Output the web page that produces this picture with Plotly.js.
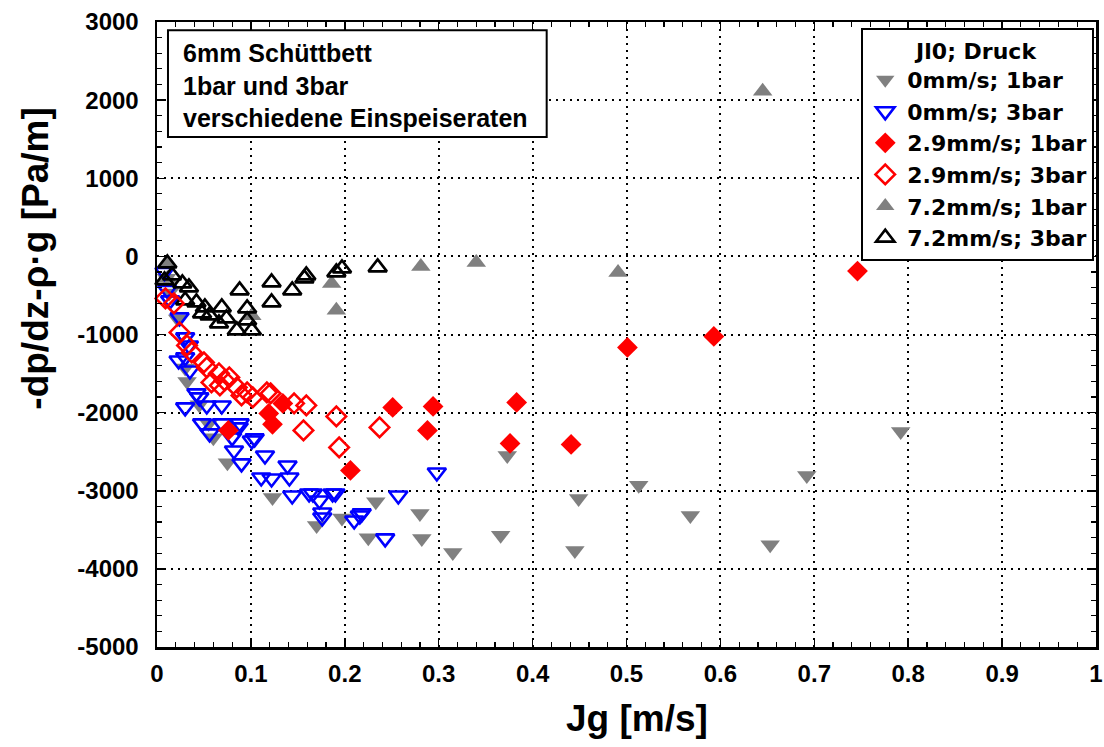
<!DOCTYPE html>
<html>
<head>
<meta charset="utf-8">
<script src="https://cdn.plot.ly/plotly-3.0.1.min.js"></script>
<style>html,body{margin:0;padding:0;background:#fff;}#chart{width:1104px;height:747px;}</style>
</head>
<body>
<div id="chart"></div>
<script>
// 0mm/s; 1bar
const g0_1bar_x = [0.010,0.013,0.022,0.030,0.032,0.045,0.055,0.060,0.075,0.123,0.170,0.197,0.225,0.233,0.280,0.282,0.315,0.366,0.373,0.445,0.449,0.513,0.568,0.653,0.692,0.792];
const g0_1bar_y = [-280,-470,-800,-1430,-1600,-1900,-2140,-2320,-2640,-3086,-3444,-3350,-3600,-3140,-3290,-3610,-3790,-3570,-2550,-3765,-3100,-2930,-3316,-3690,-2805,-2240];
// 0mm/s; 3bar
const g0_3bar_x = [0.008,0.011,0.014,0.024,0.030,0.034,0.023,0.030,0.035,0.045,0.042,0.030,0.053,0.069,0.048,0.056,0.069,0.080,0.087,0.082,0.090,0.101,0.088,0.104,0.115,0.111,0.122,0.139,0.141,0.144,0.162,0.173,0.176,0.187,0.166,0.190,0.176,0.210,0.218,0.216,0.243,0.257,0.298];
const g0_3bar_y = [-200,-430,-563,-781,-1037,-1140,-1332,-1293,-1460,-1805,-1754,-1933,-1908,-1908,-2138,-2266,-2138,-2317,-2189,-2484,-2650,-2356,-2138,-2330,-2548,-2830,-2843,-2676,-2830,-3060,-3035,-3124,-3278,-3035,-3035,-3035,-3342,-3380,-3290,-3316,-3610,-3060,-2766];
// 2.9mm/s; 1bar
const g29_1bar_x = [0.076,0.119,0.123,0.134,0.206,0.251,0.294,0.288,0.383,0.376,0.441,0.501,0.593,0.746];
const g29_1bar_y = [-2228,-2010,-2150,-1882,-2740,-1933,-1920,-2228,-1870,-2394,-2407,-1165,-1024,-188];
// 2.9mm/s; 3bar
const g29_3bar_x = [0.009,0.018,0.024,0.032,0.037,0.050,0.053,0.066,0.072,0.077,0.085,0.096,0.090,0.067,0.058,0.102,0.117,0.121,0.146,0.159,0.156,0.191,0.194,0.237];
const g29_3bar_y = [-538,-602,-973,-1140,-1229,-1357,-1421,-1498,-1588,-1549,-1677,-1741,-1780,-1652,-1613,-1805,-1741,-1754,-1882,-1908,-2228,-2049,-2445,-2189];
// 7.2mm/s; 1bar
const g72_1bar_x = [0.011,0.011,0.101,0.186,0.191,0.281,0.340,0.491,0.645];
const g72_1bar_y = [-90,-282,-760,-346,-691,-128,-77,-205,2113];
// 7.2mm/s; 3bar
const g72_3bar_x = [0.011,0.016,0.008,0.027,0.034,0.030,0.042,0.051,0.048,0.056,0.069,0.066,0.074,0.085,0.088,0.096,0.096,0.101,0.122,0.122,0.144,0.159,0.157,0.191,0.197,0.235];
const g72_3bar_y = [-90,-243,-307,-346,-397,-563,-589,-653,-730,-755,-653,-858,-794,-947,-435,-666,-819,-947,-333,-589,-435,-243,-282,-205,-154,-141];

const seriesNames = ["0mm/s; 1bar","0mm/s; 3bar","2.9mm/s; 1bar","2.9mm/s; 3bar","7.2mm/s; 1bar","7.2mm/s; 3bar"];
const yTickVals = [-5000,-4000,-3000,-2000,-1000,0,1000,2000,3000];
const yTickText = ["-5000","-4000","-3000","-2000","-1000","0","1000","2000","3000"];
const xTickVals = [0,0.1,0.2,0.3,0.4,0.5,0.6,0.7,0.8,0.9,1];
const xTickText = ["0","0.1","0.2","0.3","0.4","0.5","0.6","0.7","0.8","0.9","1"];

const FONT = "Liberation Sans, Arial, Helvetica, sans-serif";
const LEGFONT = "DejaVu Sans, Liberation Sans, Arial, sans-serif";
const GRAY = "#808080";

function tr(x, y, name, symbol, color, filled, lg, size) {
  return {
    x: x, y: y, name: name, type: "scatter", mode: "markers", legendgroup: lg,
    marker: filled
      ? {symbol: symbol, size: size, color: color, line: {width: 0}}
      : {symbol: symbol + "-open", size: size, color: color, line: {width: 2.6, color: color}},
    cliponaxis: false
  };
}

const traces = [
  tr(g0_1bar_x, g0_1bar_y, seriesNames[0], "triangle-down", GRAY, true, "a", 17),
  tr(g0_3bar_x, g0_3bar_y, seriesNames[1], "triangle-down", "#0000ff", false, "b", 16),
  tr(g29_1bar_x, g29_1bar_y, seriesNames[2], "diamond", "#ff0000", true, "c", 16),
  tr(g29_3bar_x, g29_3bar_y, seriesNames[3], "diamond", "#ff0000", false, "d", 15),
  tr(g72_1bar_x, g72_1bar_y, seriesNames[4], "triangle-up", GRAY, true, "e", 17),
  tr(g72_3bar_x, g72_3bar_y, seriesNames[5], "triangle-up", "#000000", false, "f", 16)
];
const drawOrder = [0,4,1,5,3,2];
const data = drawOrder.map(i => Object.assign({}, traces[i], {legendrank: i+1}));

const axisCommon = {
  showline: true, linecolor: "#000", linewidth: 2.5, mirror: "ticks",
  ticks: "inside", ticklen: 9, tickwidth: 1.5, tickcolor: "#000",
  showgrid: true, gridcolor: "#000", gridwidth: 2, griddash: "2px,5px",
  zeroline: false, ticklabeloverflow: "allow",
  tickfont: {family: FONT, size: 24, color: "#000", weight: "bold"}
};

const layout = {
  width: 1104, height: 747,
  margin: {l: 157, r: 8, t: 22, b: 100},
  paper_bgcolor: "#fff", plot_bgcolor: "#fff",
  font: {family: FONT, color: "#000"},
  xaxis: Object.assign({}, axisCommon, {
    range: [0, 1], tickmode: "array", tickvals: xTickVals, ticktext: xTickText,
    ticklabelstandoff: 4,
    minor: {tickmode: "linear", tick0: 0, dtick: 0.02, ticks: "inside", ticklen: 5, tickwidth: 1.2, tickcolor: "#000", showgrid: false}
  }),
  yaxis: Object.assign({}, axisCommon, {
    range: [-5000, 3000], tickmode: "array", tickvals: yTickVals, ticktext: yTickText,
    ticklabelstandoff: 11,
    minor: {tickmode: "linear", tick0: 0, dtick: 200, ticks: "inside", ticklen: 5, tickwidth: 1.2, tickcolor: "#000", showgrid: false}
  }),
  legend: {
    x: 0.75, y: 0.99, xanchor: "left", yanchor: "top",
    bgcolor: "#fff", bordercolor: "#000", borderwidth: 2,
    font: {family: LEGFONT, size: 22, color: "#000", weight: "bold"},
    title: {text: "Jl0; Druck", side: "top center", font: {family: LEGFONT, size: 22, color: "#000", weight: "bold"}},
    traceorder: "normal", tracegroupgap: 0, itemwidth: 34
  },
  shapes: [{
    type: "rect", xref: "paper", yref: "paper", layer: "above",
    x0: 0.0117, x1: 0.415, y0: 0.816, y1: 0.987,
    line: {color: "#000", width: 2}, fillcolor: "#fff"
  }],
  annotations: [{
    xref: "paper", yref: "paper", x: 0.0255, y: 0.8984, xanchor: "left", yanchor: "middle",
    align: "left", showarrow: false,
    text: "6mm Schüttbett<br>1bar und 3bar<br>verschiedene Einspeiseraten",
    font: {family: FONT, size: 25, color: "#000", weight: "bold"}
  }, {
    xref: "paper", yref: "paper", x: -0.1295, y: 0.622, xanchor: "center", yanchor: "middle",
    textangle: -90, showarrow: false, text: "-dp/dz-ρ·g [Pa/m]",
    font: {family: FONT, size: 37, color: "#000", weight: "bold"}
  }, {
    xref: "paper", yref: "paper", x: 0.511, y: -0.1136, xanchor: "center", yanchor: "middle",
    showarrow: false, text: "Jg [m/s]",
    font: {family: FONT, size: 37, color: "#000", weight: "bold"}
  }]
};

Plotly.newPlot("chart", data, layout, {displayModeBar: false, staticPlot: true});
</script>
</body>
</html>
